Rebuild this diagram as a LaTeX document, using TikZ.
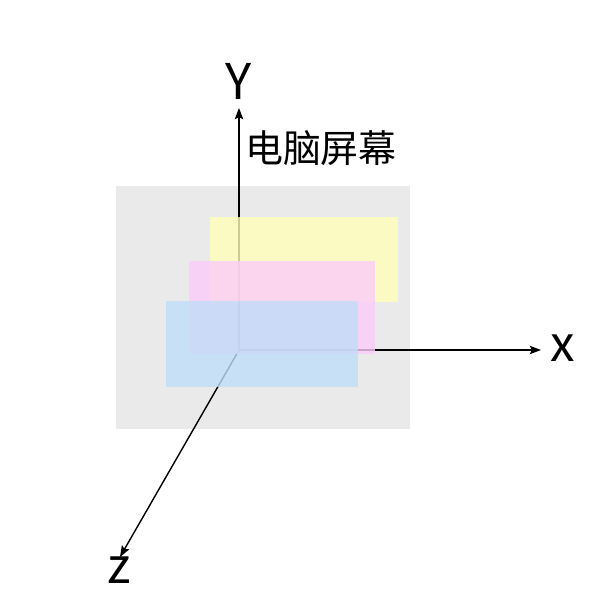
\documentclass[tikz,border=0pt]{standalone}
\usepackage{fontspec}
\setmainfont{Noto Sans CJK SC}
\usetikzlibrary{arrows.meta}
\definecolor{screengray}{RGB}{234,234,234}
\definecolor{layeryellow}{RGB}{254,254,184}
\definecolor{layerpink}{RGB}{252,204,250}
\definecolor{layerblue}{RGB}{192,222,248}
\tikzset{
  axis/.style={line width=1pt, -{Stealth[length=8pt,width=6pt,inset=1.5pt]}},
  layer/.style={fill=#1, fill opacity=0.8},
  axislabel/.style={font=\fontsize{35}{40}\selectfont, inner sep=0pt}
}
\begin{document}
\begin{tikzpicture}[x=1cm,y=1cm]
\useasboundingbox (-5.975,-6.25) rectangle (9.025,8.75);
% screen
\fill[screengray] (-3.075,-1.975) rectangle (4.275,4.1);
% axes
\coordinate (o) at (0,0);
\coordinate (yend) at (0,6.05);
\coordinate (xend) at (7.55,0);
\coordinate (zend) at (-2.975,-5.175);
\draw[axis] (o) -- (yend);
\draw[axis] (o) -- (xend);
\draw[axis] (o) -- (zend);
\node[axislabel] (ylab) at (0,6.725) {Y};
\node[axislabel] (xlab) at (8.1,0.05) {x};
\node[axislabel] (zlab) at (-3.0,-5.5) {z};
\node[font=\fontsize{27}{31}\selectfont, inner sep=0pt] (screen) at (2.05,5.05) {电脑屏幕};
% layers
\fill[layer=layeryellow] (-0.725,1.2) rectangle (3.975,3.325);
\fill[layer=layerpink] (-1.25,-0.1) rectangle (3.4,2.225);
\fill[layer=layerblue] (-1.825,-0.925) rectangle (2.975,1.225);
\end{tikzpicture}
\end{document}
